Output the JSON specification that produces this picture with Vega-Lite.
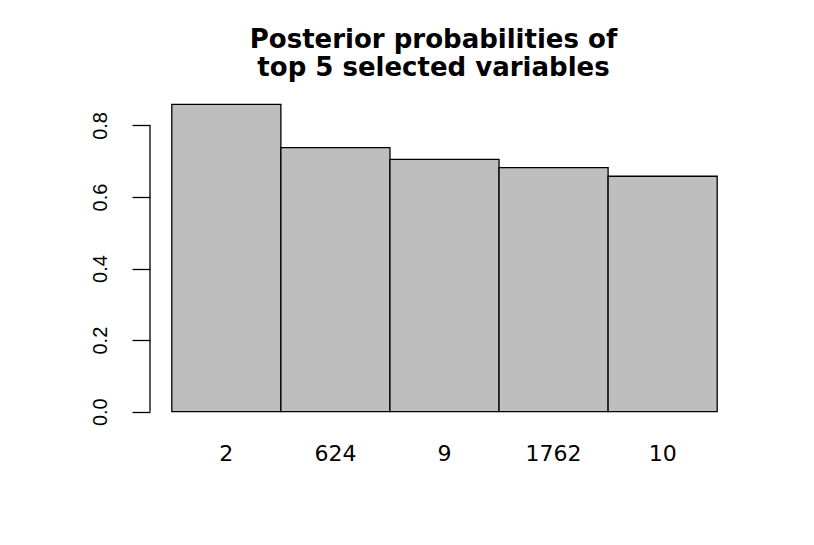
{
  "$schema": "https://vega.github.io/schema/vega-lite/v6.json",
  "autosize": {"type": "none"},
  "width": 589,
  "height": 332,
  "padding": {"left": 150, "top": 92, "right": 75, "bottom": 121},
  "background": "white",
  "config": {"view": {"stroke": null}},
  "title": {
    "text": ["Posterior probabilities of", "top 5 selected variables"],
    "font": "DejaVu Sans",
    "fontSize": 26,
    "fontWeight": "bold",
    "color": "#000000",
    "lineHeight": 28.5,
    "anchor": "middle",
    "dx": -11,
    "offset": 11
  },
  "layer": [
    {
      "data": {
        "values": [
          {"variable": "2", "prob": 0.859},
          {"variable": "624", "prob": 0.738},
          {"variable": "9", "prob": 0.705},
          {"variable": "1762", "prob": 0.682},
          {"variable": "10", "prob": 0.658}
        ]
      },
      "mark": {"type": "bar", "fill": "#BEBEBE", "stroke": "#000000", "strokeWidth": 1.3},
      "encoding": {
        "x": {
          "field": "variable",
          "type": "nominal",
          "sort": null,
          "scale": {"paddingInner": 0, "paddingOuter": 0.2},
          "axis": {
            "title": null,
            "domain": false,
            "ticks": false,
            "tickSize": 0,
            "labelAngle": 0,
            "labelFont": "DejaVu Sans",
            "labelFontSize": 22,
            "labelColor": "#000000",
            "labelBaseline": "alphabetic",
            "labelPadding": 36
          }
        },
        "y": {
          "field": "prob",
          "type": "quantitative",
          "scale": {"domain": [-0.0344, 0.8934], "nice": false, "zero": false},
          "axis": {
            "title": null,
            "domain": false,
            "grid": false,
            "values": [0, 0.2, 0.4, 0.6, 0.8],
            "format": ".1f",
            "tickColor": "#000000",
            "tickWidth": 1.3,
            "tickSize": 18,
            "labelAngle": 270,
            "labelAlign": "center",
            "labelBaseline": "alphabetic",
            "labelPadding": 26,
            "labelFont": "Liberation Sans",
            "labelFontSize": 20,
            "labelColor": "#000000"
          }
        }
      }
    },
    {
      "data": {"values": [{"lo": 0, "hi": 0.8}]},
      "mark": {"type": "rule", "color": "#000000", "strokeWidth": 1.3},
      "encoding": {
        "x": {"value": 0},
        "y": {"field": "lo", "type": "quantitative"},
        "y2": {"field": "hi"}
      }
    }
  ]
}
